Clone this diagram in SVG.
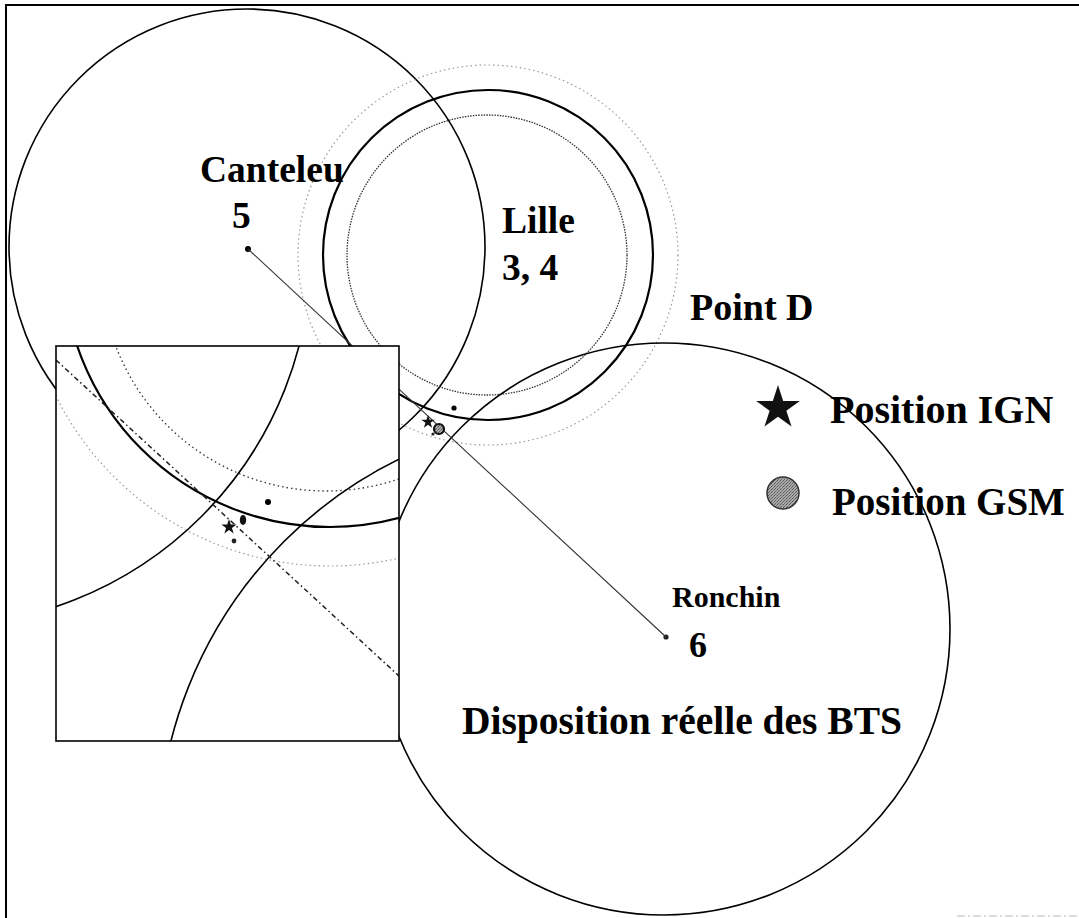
<svg xmlns="http://www.w3.org/2000/svg" width="1079" height="918" viewBox="0 0 1079 918">
<style>
  .lbl{font-family:"Liberation Serif","Times New Roman",serif;font-weight:bold;fill:#000}
  .solid{fill:none;stroke:#000;stroke-width:1.6}
  .thick{fill:none;stroke:#000;stroke-width:2.2}
  .dotd{fill:none;stroke:#333;stroke-width:1.3;stroke-dasharray:1.5 1.2}
  .dotl{fill:none;stroke:#999;stroke-width:1.2;stroke-dasharray:1.5 3}
  .link{fill:none;stroke:#333;stroke-width:1.1}
  .frame{fill:none;stroke:#000;stroke-width:2}
</style>
<defs>
  <!-- unit five-pointed star, scaled where used -->
  <polygon id="star" points="0,-1 0.2245,-0.309 0.951,-0.309 0.3633,0.118 0.5878,0.809 0,0.382 -0.5878,0.809 -0.3633,0.118 -0.951,-0.309 -0.2245,-0.309" fill="#111"/>
  <!-- speckled grey fill for the GSM marker -->
  <pattern id="speck" width="3" height="3" patternUnits="userSpaceOnUse">
    <rect width="3" height="3" fill="#a8a8a8"/>
    <rect width="1" height="1" fill="#555"/>
    <rect x="2" y="1" width="1" height="1" fill="#777"/>
    <rect x="1" y="2" width="1" height="1" fill="#666"/>
  </pattern>
  <clipPath id="insetClip"><rect x="56" y="346" width="343" height="395"/></clipPath>
</defs>

<rect width="1079" height="918" fill="#fff"/>

<!-- page frame -->
<g id="frame">
  <path class="frame" d="M6,918 V5 H1079"/>
  <line x1="957" y1="916" x2="1079" y2="916" stroke="#bbb" stroke-width="1" stroke-dasharray="8 3 2 3"/>
</g>

<!-- BTS coverage circles -->
<g id="canteleu">
  <circle class="solid" cx="247" cy="247" r="238"/>
  <circle cx="248" cy="249" r="3" fill="#000"/>
</g>
<g id="lille">
  <circle class="dotl" cx="488" cy="255" r="190"/>
  <circle class="thick" cx="488" cy="255" r="165"/>
  <circle class="dotd" cx="487" cy="255" r="140"/>
</g>
<g id="ronchin">
  <circle class="solid" cx="664" cy="629" r="286"/>
  <circle cx="666" cy="637" r="2.6" fill="#222"/>
</g>

<!-- connectors -->
<g id="connectors">
  <line class="link" x1="248" y1="249" x2="666" y2="637"/>
</g>

<!-- measured point D -->
<g id="pointD">
  <circle cx="454" cy="408" r="2.6" fill="#000"/>
  <use href="#star" transform="translate(428,422) scale(7)"/>
  <circle cx="439" cy="429" r="5" fill="url(#speck)" stroke="#111" stroke-width="2.2"/>
  <circle cx="433" cy="434" r="1.6" fill="#222"/>
</g>

<!-- magnified view around point D -->
<g id="inset">
  <rect x="56" y="346" width="343" height="395" fill="#fff"/>
  <g clip-path="url(#insetClip)">
    <circle class="dotl" cx="330" cy="260" r="306" stroke="#888"/>
    <circle class="dotd" cx="326" cy="266" r="225" style="stroke-dasharray:1.5 3"/>
    <circle class="thick" cx="330" cy="260" r="267"/>
    <circle class="solid" cx="-63" cy="252" r="374"/>
    <circle class="solid" cx="589" cy="846" r="431"/>
    <line x1="56" y1="360" x2="399" y2="676" stroke="#222" stroke-width="1.5" stroke-dasharray="5 3 1.5 3"/>
    <circle cx="268" cy="502" r="3" fill="#000"/>
    <use href="#star" transform="translate(229,527) scale(8)"/>
    <ellipse cx="243" cy="520" rx="3.2" ry="5" fill="#111"/>
    <circle cx="234" cy="541" r="2.4" fill="#222"/>
  </g>
  <rect x="56" y="346" width="343" height="395" fill="none" stroke="#000" stroke-width="1.6"/>
</g>

<!-- labels -->
<g id="labels">
  <text class="lbl" x="200" y="182" font-size="37.5">Canteleu</text>
  <text class="lbl" x="232" y="228" font-size="37.5">5</text>
  <text class="lbl" x="502" y="233" font-size="37.5">Lille</text>
  <text class="lbl" x="502" y="280" font-size="37.5">3, 4</text>
  <text class="lbl" x="690" y="320" font-size="38">Point D</text>
  <text class="lbl" x="672" y="607" font-size="30">Ronchin</text>
  <text class="lbl" x="689" y="657" font-size="36">6</text>
  <text class="lbl" x="462" y="734" font-size="39.5">Disposition réelle des BTS</text>
</g>

<!-- legend -->
<g id="legend">
  <use href="#star" transform="translate(778,408) scale(23)"/>
  <text class="lbl" x="830" y="423" font-size="40">Position IGN</text>
  <circle cx="783" cy="493" r="16" fill="url(#speck)" stroke="#333" stroke-width="1.5"/>
  <text class="lbl" x="832" y="515" font-size="39">Position GSM</text>
</g>
</svg>
